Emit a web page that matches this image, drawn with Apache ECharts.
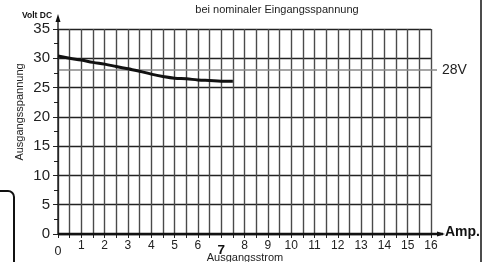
<!DOCTYPE html>
<html>
<head>
<meta charset="utf-8">
<script src="https://cdn.jsdelivr.net/npm/echarts@6/dist/echarts.min.js"></script>
<style>
  html, body { margin: 0; padding: 0; background: #fff; }
  #main { width: 490px; height: 262px; }
</style>
</head>
<body>
<div id="main"></div>
<script>
// Ausgangsstrom (A) und Ausgangsspannung (V DC)
var currentA = [0, 0.5, 1, 1.5, 2, 2.5, 3, 3.5, 4, 4.5, 5, 5.5, 6, 6.5, 7, 7.5];
var voltageV = [30.4, 30.0, 29.7, 29.3, 29.0, 28.6, 28.2, 27.8, 27.3, 26.9, 26.6, 26.5, 26.3, 26.2, 26.1, 26.1];
var nominalV = 28;
var xTickLabels = ['0', '1', '2', '3', '4', '5', '6', '7', '8', '9', '10', '11', '12', '13', '14', '15', '16'];

var FONT = '"Liberation Sans", Arial, sans-serif';
var myChart = echarts.init(document.getElementById('main'));

var data = [];
for (var i = 0; i < currentA.length; i++) {
    data.push([currentA[i], voltageV[i]]);
}

var option = {
    animation: false,
    title: {
        text: 'bei nominaler Eingangsspannung',
        left: 272,
        textAlign: 'center',
        top: -1,
        textStyle: { fontFamily: FONT, fontSize: 11, fontWeight: 'normal', color: '#222' }
    },
    grid: { left: 58, right: 59, top: 29, bottom: 28 },
    xAxis: {
        type: 'value',
        min: 0,
        max: 16,
        interval: 0.5,
        axisLine: { show: false },
        axisTick: { show: true, length: 4, lineStyle: { color: '#222', width: 1 } },
        axisLabel: {
            margin: 6,
            fontFamily: FONT,
            color: '#222',
            formatter: function (v) {
                if (v % 1 !== 0) return '';
                var s = xTickLabels[v];
                if (v === 0) return '{z|' + s + '}';
                if (v === 7) return '{b|' + s + '}';
                return '{n|' + s + '}';
            },
            rich: {
                n: { fontFamily: FONT, fontSize: 12, color: '#222' },
                z: { fontFamily: FONT, fontSize: 12.5, color: '#222', padding: [5, 0, 0, 0] },
                b: { fontFamily: FONT, fontSize: 13.5, fontWeight: 'bold', color: '#111', padding: [3, 0, 0, 0] }
            }
        },
        splitLine: { show: true, lineStyle: { color: '#4a4a4a', width: 1.4 } }
    },
    yAxis: {
        type: 'value',
        min: 0,
        max: 35,
        interval: 5,
        axisLine: { show: false },
        axisTick: { show: true, length: 5, lineStyle: { color: '#222', width: 1 } },
        minorTick: { show: true, splitNumber: 2, length: 4, lineStyle: { color: '#222', width: 1 } },
        axisLabel: { margin: 8, fontFamily: FONT, fontSize: 15, color: '#222' },
        splitLine: { show: true, lineStyle: { color: '#222', width: 1.3 } }
    },
    series: [{
        type: 'line',
        data: data,
        smooth: 0.4,
        showSymbol: false,
        lineStyle: { color: '#111', width: 3 },
        z: 5
    }]
};
myChart.setOption(option);

// Achsen, 28V-Linie und Beschriftungen als Grafik
var o = myChart.convertToPixel({ gridIndex: 0 }, [0, 0]);
var xEnd = myChart.convertToPixel({ gridIndex: 0 }, [16, 35]);
var p28 = myChart.convertToPixel({ gridIndex: 0 }, [0, nominalV]);

myChart.setOption({
    graphic: [
        // 28V Linie
        { type: 'line', z: 3, shape: { x1: o[0], y1: p28[1], x2: xEnd[0] + 6, y2: p28[1] }, style: { stroke: '#888', lineWidth: 1.5 } },
        { type: 'text', x: xEnd[0] + 11, y: p28[1], style: { text: nominalV + 'V', font: '14px ' + FONT, fill: '#222', verticalAlign: 'middle' } },
        // x-Achse mit Pfeil
        { type: 'line', z: 6, shape: { x1: o[0], y1: o[1], x2: xEnd[0] + 12, y2: o[1] }, style: { stroke: '#111', lineWidth: 2.5 } },
        { type: 'polygon', z: 6, shape: { points: [[xEnd[0] + 14, o[1]], [xEnd[0] + 6, o[1] - 2.5], [xEnd[0] + 6, o[1] + 2.5]] }, style: { fill: '#111' } },
        { type: 'text', x: xEnd[0] + 14, y: o[1] - 2, style: { text: 'Amp.', font: 'bold 14px ' + FONT, fill: '#111', verticalAlign: 'middle' } },
        // y-Achse mit Pfeil
        { type: 'line', z: 6, shape: { x1: o[0], y1: o[1], x2: o[0], y2: 19 }, style: { stroke: '#111', lineWidth: 1.3 } },
        { type: 'polygon', z: 6, shape: { points: [[o[0], 14], [o[0] - 2.5, 22], [o[0] + 2.5, 22]] }, style: { fill: '#111' } },
        { type: 'text', x: 37, y: 16, style: { text: 'Volt DC', font: 'bold 8.5px ' + FONT, fill: '#111', align: 'center', verticalAlign: 'middle' } },
        // Achsentitel
        { type: 'text', x: 20, y: 112, rotation: Math.PI / 2, style: { text: 'Ausgangsspannung', font: '11px ' + FONT, fill: '#222', align: 'center', verticalAlign: 'middle' } },
        { type: 'text', x: 245, y: 258, style: { text: 'Ausgangsstrom', font: '11px ' + FONT, fill: '#222', align: 'center', verticalAlign: 'middle' } },
        // Rahmen
        { type: 'line', shape: { x1: 481, y1: 0, x2: 481, y2: 262 }, style: { stroke: '#111', lineWidth: 1.5 } },
        { type: 'polyline', shape: { points: [[0, 191], [8, 191]] }, style: { stroke: '#111', lineWidth: 2, fill: null } },
        { type: 'arc', shape: { cx: 8, cy: 197, r: 6, startAngle: -Math.PI / 2, endAngle: 0 }, style: { stroke: '#111', lineWidth: 2, fill: null } },
        { type: 'line', shape: { x1: 14, y1: 197, x2: 14, y2: 262 }, style: { stroke: '#111', lineWidth: 2 } }
    ]
});
</script>
</body>
</html>
